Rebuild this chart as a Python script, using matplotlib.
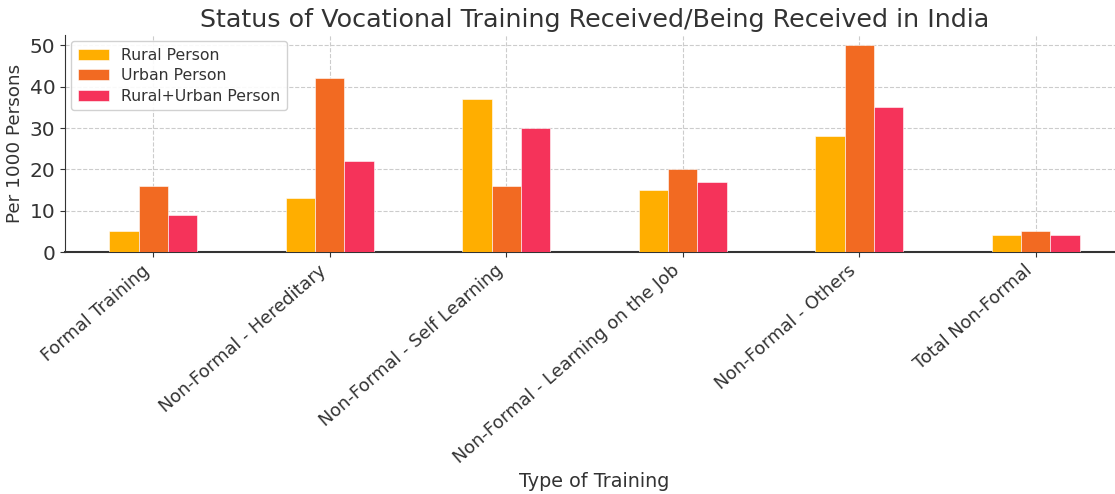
import numpy as np
import matplotlib.pyplot as plt

categories = ['Formal Training', 'Non-Formal - Hereditary', 'Non-Formal - Self Learning',
              'Non-Formal - Learning on the Job', 'Non-Formal - Others', 'Total Non-Formal']
rural = [5, 13, 37, 15, 28, 4]
urban = [16, 42, 16, 20, 50, 5]
combined = [9, 22, 30, 17, 35, 4]
series_names = ['Rural Person', 'Urban Person', 'Rural+Urban Person']
colors = ['#FFAE00', '#F26A22', '#F5335A']

plt.rcParams['text.color'] = '#333333'
plt.rcParams['axes.labelcolor'] = '#333333'
plt.rcParams['xtick.color'] = '#333333'
plt.rcParams['ytick.color'] = '#333333'

fig = plt.figure(figsize=(11.15, 4.94), dpi=100)
ax = fig.add_axes([65 / 1115, 1 - 252 / 494, (1124 - 65) / 1115, (252 - 35) / 494])

x = np.arange(len(categories))
w = 0.5 / 3
for i, (vals, name, c) in enumerate(zip([rural, urban, combined], series_names, colors)):
    ax.bar(x + (i - 1) * w, vals, w, label=name, color=c, edgecolor='#ffffff', linewidth=0.4, zorder=3)

ax.set_xlim(-0.5, 5.5)
ax.set_ylim(0, 52.5)
ax.set_yticks([0, 10, 20, 30, 40, 50])
ax.set_xticks(x)
ax.set_xticklabels(categories, rotation=41, ha='right', fontsize=12.8)
ax.tick_params(axis='y', labelsize=14.5)
ax.grid(True, linestyle='--', color='#cccccc', linewidth=0.8, zorder=0)
ax.spines['top'].set_visible(False)
ax.spines['right'].set_visible(False)
ax.spines['left'].set_color('#333333')
ax.spines['bottom'].set_color('#333333')
ax.spines['bottom'].set_linewidth(1.5)

ax.set_title('Status of Vocational Training Received/Being Received in India', fontsize=18.3, pad=6)
ax.set_xlabel('Type of Training', fontsize=13.8)
ax.xaxis.set_label_coords(0.5, -1.015)
ax.set_ylabel('Per 1000 Persons', fontsize=13.2)
ax.legend(loc='upper left', fontsize=11.3, framealpha=0.9, borderaxespad=0.4, labelspacing=0.35)

fig.savefig('out.png', dpi=100)
